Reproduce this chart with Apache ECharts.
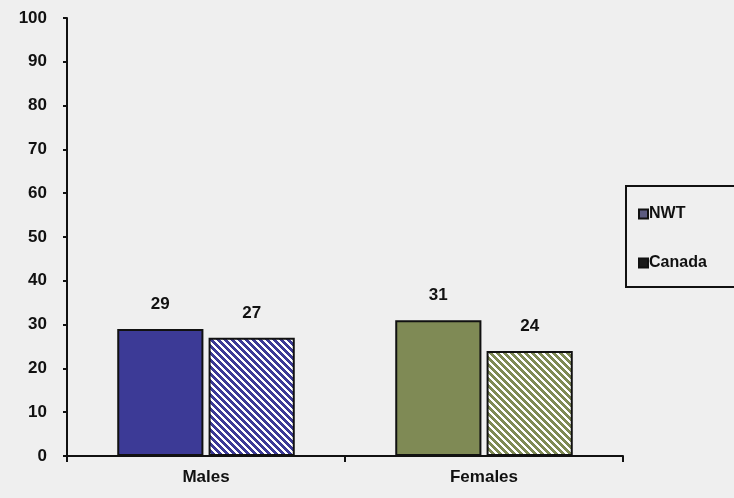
<!DOCTYPE html>
<html>
<head>
<meta charset="utf-8">
<script src="https://cdn.jsdelivr.net/npm/echarts@6/dist/echarts.min.js"></script>
<style>
html,body{margin:0;padding:0;background:#efefef;}
#chart{width:734px;height:498px;}
</style>
</head>
<body>
<div id="chart"></div>
<script>
const categories = ['Males', 'Females'];
const seriesNames = ['NWT', 'Canada'];
const nwtValues = [29, 31];
const canadaValues = [27, 24];
const yTicks = [0, 10, 20, 30, 40, 50, 60, 70, 80, 90, 100];
const categoryColors = ['#3c3a96', '#7f8a55'];

function makeHatch(color) {
  const size = 7;
  const c = document.createElement('canvas');
  c.width = size; c.height = size;
  const ctx = c.getContext('2d');
  ctx.fillStyle = color;
  ctx.fillRect(0, 0, size, size);
  ctx.fillStyle = '#ffffff';
  for (let y = 0; y < size; y++) {
    for (let x = 0; x < size; x++) {
      const d = ((x - y) % size + size) % size;
      if (d < 3) ctx.fillRect(x, y, 1, 1);
    }
  }
  return { image: c, repeat: 'repeat' };
}

const chart = echarts.init(document.getElementById('chart'));
const font = 'Liberation Sans, Arial, sans-serif';
chart.setOption({
  backgroundColor: '#efefef',
  animation: false,
  grid: { left: 67, right: 111, top: 18, bottom: 42 },
  legend: {
    orient: 'vertical',
    left: 626,
    top: 186,
    data: seriesNames,
    itemWidth: 9,
    itemHeight: 9,
    itemGap: 33,
    padding: [20, 200, 16, 12],
    borderColor: '#111',
    borderWidth: 2,
    icon: 'rect',
    textStyle: { fontFamily: font, fontWeight: 'bold', fontSize: 16, color: '#111', padding: [0, 0, 0, -4] }
  },
  xAxis: {
    type: 'category',
    data: categories,
    axisLine: { lineStyle: { color: '#111', width: 2 } },
    axisTick: { show: true, length: 6, lineStyle: { color: '#111', width: 2 } },
    axisLabel: { fontFamily: font, fontWeight: 'bold', fontSize: 17, color: '#111', margin: 13 }
  },
  yAxis: {
    type: 'value',
    min: 0, max: 100, interval: 10,
    splitLine: { show: false },
    axisLine: { show: true, lineStyle: { color: '#111', width: 2 } },
    axisTick: { show: true, length: 4, lineStyle: { color: '#111', width: 2 } },
    axisLabel: {
      fontFamily: font, fontWeight: 'bold', fontSize: 17, color: '#111', margin: 20,
      formatter: v => yTicks.includes(v) ? String(v) : ''
    }
  },
  series: [
    {
      name: seriesNames[0], type: 'bar',
      barWidth: '31%', barGap: '6%',
      itemStyle: { color: '#5c5b80', borderColor: '#111', borderWidth: 2 },
      label: { show: true, position: 'top', distance: 16, fontFamily: font, fontWeight: 'bold', fontSize: 17, color: '#111' },
      data: nwtValues.map((v, i) => ({ value: v, itemStyle: { color: categoryColors[i] } }))
    },
    {
      name: seriesNames[1], type: 'bar',
      barWidth: '31%',
      itemStyle: { color: '#1a1a1a', borderColor: '#111', borderWidth: 2 },
      label: { show: true, position: 'top', distance: 16, fontFamily: font, fontWeight: 'bold', fontSize: 17, color: '#111' },
      data: canadaValues.map((v, i) => ({ value: v, itemStyle: { color: makeHatch(categoryColors[i]) } }))
    }
  ]
});
</script>
</body>
</html>
